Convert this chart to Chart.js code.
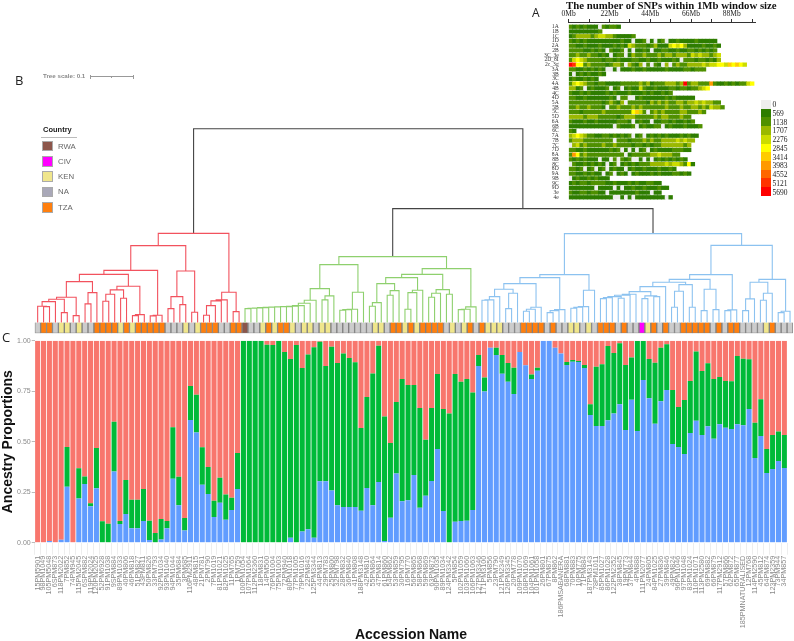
<!DOCTYPE html>
<html>
<head>
<meta charset="utf-8">
<title>Accession ancestry</title>
<script src="https://cdn.jsdelivr.net/npm/chart.js@4/dist/chart.umd.min.js"></script>
<style>
  html, body { margin: 0; padding: 0; background: #fff; overflow: hidden; }
  #page { position: relative; width: 794px; height: 641px; font-family: "Liberation Sans", sans-serif; }
  canvas { position: absolute; }
  .txt { position: absolute; white-space: nowrap; }
  .box { position: absolute; box-sizing: border-box; }
</style>
</head>
<body>
<div id="page">
  <canvas id="ancestry" width="794" height="641" style="left:0;top:0"></canvas>
  <canvas id="tree" width="794" height="216" style="left:0;top:120px"></canvas>
  <canvas id="snps" width="264" height="205" style="left:530px;top:0"></canvas>
</div>
<script>
// accession names, left to right
var accessions = ["15PM5901","98PM1049","105PM5048","6SPM873","118PM2022","7PM852","74PM945","115PM2045","6SPM882","119PM2024",
  "120PM2025","52PM6928","91PM1038","9SPM884","89PM1033","40PM806","46PM818","51PM827","43PM811","50PM826",
  "33PM793","92PM1034","93PM1040","94PM1044","35PM684","3PM685","116PM2911","48PM815","21PM781","2PM790",
  "7PM1019","81PM1021","82PM1025","11PM765","1PM759","100PM1054","107PM1064","112PM2360","18PM831","14PM500",
  "76PM1004","75PM1003","72PM940","80PM1018","77PM1005","79PM1016","22PM843","125PM3344","44PM813","29PM783",
  "25PM800","32PM798","28PM832","36PM840","41PM808","188PM3148","42PM810","55PM864","47PM814","61PM860",
  "54PM862","53PM859","30PM795","16PM770","56PM865","58PM868","59PM869","63PM873","90PM1035","89PM1034",
  "124PM3342","5PM854","102PM1059","103PM1060","106PM1063","127PM3346","171PM3100","5PM856","23PM790","121PM2349",
  "126PM3345","20PM778","109PM1070","108PM1069","104PM1061","101PM1058","26PM801","67PM875","8PM862","186PMSABANERA",
  "68PM881","70PM883","10PM775","71PM884","187PM3143","78PM1011","85PM1027","86PM1028","122PM2352","38PM845",
  "19PM773","37PM844","4PM888","111PM2077","24PM805","84PM1025","27PM836","39PM846","49PM824","96PM1046",
  "97PM1048","83PM1024","110PM1071","113PM2580","69PM882","66PM879","117PM2912","57PM866","62PM872","65PM877",
  "185PMNATURALISED","12PM768","114PM2590","45PM812","64PM874","123PM2359","73PM944","34PM857"];

// top of the blue part of each bar
var blueTop = [0,0,.008,0,.015,.277,0,.219,.29,.18,.27,0,0,.353,.092,.142,.071,.071,.107,.013,
  0,.016,.071,.317,.185,.061,.607,.546,.287,.241,.127,.198,.114,.162,.266,0,0,0,0,0,
  0,0,0,.025,0,.056,.066,.025,.304,.304,.259,.186,.177,.177,.177,.158,.271,.186,.3,.008,
  .124,.342,.205,.21,.335,.173,.233,.305,.464,.157,0,.104,.107,.109,.162,.875,.748,.965,.929,.837,
  .797,.736,.944,.878,.81,.851,1,1,.965,.937,.88,.896,.894,.865,.632,.578,.578,.606,.639,.685,
  .558,.708,.553,.805,.715,.589,.7,.756,.488,.474,.439,.543,.604,.533,.576,.515,.586,.569,.563,.586,
  .581,.662,.419,.528,.345,.365,.404,.37];

// top of the green part of each bar, red fills the rest up to 1
var greenTop = [0,0,.008,0,.015,.474,0,.368,.328,.195,.469,.106,.094,.599,.107,.31,.213,.213,.266,.109,
  .048,.117,.107,.571,.327,.122,.776,.733,.472,.375,.208,.322,.238,.223,.444,1,1,1,1,.98,
  .979,1,.944,.909,.979,.865,.932,.967,.995,.875,.97,.889,.937,.914,.893,.568,.721,.838,.975,.625,
  .493,.696,.81,.781,.781,.667,.51,.667,.835,.662,.639,.835,.797,.81,.744,.929,.818,.965,.965,.929,
  .889,.866,.944,.878,.833,.866,1,1,.965,.937,.894,.904,.899,.88,.686,.871,.883,.974,.939,.987,
  .88,.917,.998,.998,.909,.891,.965,.983,.756,.672,.706,.8,.946,.85,.888,.81,.82,.8,.799,.924,
  .911,.908,.594,.71,.464,.533,.551,.533];

var yTicks = [0, .25, .5, .75, 1];

// country of each accession, same order as the bars
var countryOfLeaf = ("NTTNKKNKNNTTTTKTKTTTTTNNNKNKTTTNNTTRNNKTKTT" +
  "KNKKNKKNNNNNNNKKNTTKTKTTTTNKNKTNTKKKNNNTTTTNTNNKKNKNTTTNTNNCKTNTNNTTTTTNTNTTNNNNKTNNN").split("");
var countryNames = ["RWA", "CIV", "KEN", "NA", "TZA"];
var countryKeys = ["R", "C", "K", "N", "T"];
var countryColors = ["#8c564b", "#ff00ff", "#f0e68c", "#a9a8b8", "#ff7f0e"];
var stripColors = ["#8c564b", "#ff00ff", "#f0e68c", "#cccccc", "#ff7f0e"];

// clades as [height, left, right], a plain number is a leaf position
var redClade = [89.3,
  [77,
    [52.3,
      [48.3,
        [41,
          [25.3,
            [23.3, [21, [16.3, 0, [16, 1, 2]], 3], [10, 4, 5]],
            [7, 6, 7]],
          [30, [18.7, 8, 9], 10]],
        [36.3,
          [32.7, [28.3, [21.3, 11, 12], 13], [24.3, 14, 15]],
          [8, [7, 16, 17], 18]]],
      [7.3, [6.7, 19, 20], 21]],
    [51.7,
      [26, [14, 22, 23], [18, 24, 25]],
      [10.3, 26, 27]]],
  [30.3,
    [22.7, [21.7, [17, [7.3, 28, 29], 30], 31], 32],
    [11, 33, 34]]];

var greenClade = [66,
  [58,
    [34,
      [22.3, [19.3, [17, [16.3, [16, [15.8, [15.6, [15.3, [15, [14.6, [14.3, [14, 35, 36], 37], 38], 39], 40], 41], 42], 43], 44], 45], 46], 47],
      [26.7, [22.7, 48, 49], 50]],
    [30.3, [13.3, [13, [12.3, 51, 52], 53], 54], 55]],
  [54,
    [48.3,
      [45,
        [39,
          [20, [16.3, 56, 57], 58],
          [32, [27.3, 59, 60], 61]],
        [32.3, [30, [13.3, 62, 63], 64], 65]],
      [33,
        [29.3, [25.3, 66, 67], 68],
        [28.3, 69, 70]]],
    [15.7, [13.3, [13, 71, 72], 73], 74]]];

var blueClade = [89,
  [48,
    [45,
      [39,
        [33.3,
          [26, [22.7, [22.3, 75, 76], 77], 78],
          [29.3, [14, 79, 80], 81]],
        [15.3, [13.3, [11.3, 82, 83], 84], 85]],
      [13, [12, [10, 86, 87], 88], 89]],
    [32.3, [16, [15.3, [14.3, 90, 91], 92], 93], 94]],
  [77.3,
    [48,
      [43.3,
        [40.3,
          [36,
            [31,
              [28.3, [27.3, [26, [25, [24, 95, 96], 97], [24.3, 98, 99]], 100], 101],
              [26.7, [24, 102, 103], [26, 104, 105]]],
            106],
          [38,
            [31.3, [15.3, 107, 108], 109],
            [15.3, 110, 111]]],
        [33.3, [12, 112, 113], [13, 114, 115]]],
      [12.7, [12, 116, 117], 118]],
    [43.3,
      [40.3,
        [23.7, [12, 119, 120], 121],
        [29.3, [22.3, 122, 123], 124]],
      [11.3, [10, 125, 126], 127]]]];

var greenBlueHeight = 114;
var rootHeight = 194;
var stripDepth = 10.7;

// chromosome rows and their SNP class per 2Mb bin (class * 569 = SNPs per window)
var chromosomes = ["1A","1B","1C","1D","2A","2B","3C_3e","2D_8I","2c_3g","3A","3B","3C","4A","4B","4C","4D","5A","5B","5C","5D",
  "6A","6B","6C","7A","7B","7C","7D","8A","8B","8C","8D","9A","9B","9C","9D","3e","4e"];
var snpBins = [
  "21212111021221",
  "111111112",
  "123333234433211112",
  "2121211111111121101120101201121111211111",
  "22112111211121214322212311145453111121121",
  "2222112121021120101121011221121122121212",
  "22322322121012201322322232332333243433234",
  "24543222212212111221121121112102221221213",
  "a95523222212332032130202103023223333434455465654",
  "2211212121001011121121111121111221222",
  "1012121121",
  "12112121",
  "2454322122111122222323122233323a233222721121212245",
  "33120121112012012114211211122122122345",
  "2112121111212111211121211212",
  "2211211111121022001211111121211111",
  "22222222212321302222213232322332334343322",
  "223223222102232223232222223222322332324332",
  "2221222223222222256420232322223322232",
  "333323332222212333222223233222322",
  "2111211211111222101211011221211212",
  "111111111111021112012112201211121112",
  "21",
  "34543221122121212012012121211121211",
  "2333222222220222122232322333343433",
  "034232222322322221221212233333323",
  "221121111112120101012012111122211",
  "275232222222222012222233433322",
  "21212111011020212001010121212121",
  "0211212121012012121222333343443251",
  "22120120120121101211211121121",
  "221121211012012101211121211122121",
  "01211212111",
  "1212212222112111212112211",
  "111111101111010112112111211",
  "2112212211011111112111011",
  "1111111111110010101111111101"
];
var snpClassColors = ["#eeeeee","#2e7d00","#4f9000","#9ab800","#ccdc00","#ffff00","#ffcc00","#ff9900","#ff6600","#ff3300","#ff0000"];
var snpKeyLabels = [0, 569, 1138, 1707, 2276, 2845, 3414, 3983, 4552, 5121, 5690];

var page = document.getElementById("page");
Chart.defaults.animation = false;
Chart.defaults.responsive = false;

function addText(text, left, top, css) {
  var d = document.createElement("div");
  d.className = "txt";
  d.textContent = text;
  d.style.cssText = "left:" + left + "px;top:" + top + "px;" + css;
  page.appendChild(d);
}

function addBox(left, top, w, h, css) {
  var d = document.createElement("div");
  d.className = "box";
  d.style.cssText = "left:" + left + "px;top:" + top + "px;width:" + w + "px;height:" + h + "px;" + css;
  page.appendChild(d);
}

//-------------
//- STACKED BARS -
//-------------
var blueShare = [], greenShare = [], redShare = [];
for (var i = 0; i < accessions.length; i++) {
  blueShare.push(blueTop[i]);
  greenShare.push(greenTop[i] - blueTop[i]);
  redShare.push(1 - greenTop[i]);
}

new Chart(document.getElementById("ancestry"), {
  type: "bar",
  data: {
    labels: accessions,
    datasets: [
      { label: "blue", data: blueShare, backgroundColor: "#619cff" },
      { label: "green", data: greenShare, backgroundColor: "#00ba38" },
      { label: "red", data: redShare, backgroundColor: "#f8766d" }
    ]
  },
  options: {
    layout: { padding: { top: 340.7, right: 1 } },
    plugins: { legend: { display: false }, tooltip: { enabled: false } },
    barPercentage: 0.86,
    categoryPercentage: 1,
    scales: {
      x: {
        stacked: true,
        afterFit: function (axis) { axis.height = 98.3; },
        grid: { drawOnChartArea: false, tickLength: 12, color: "#eeeeee" },
        border: { display: false },
        ticks: { autoSkip: false, minRotation: 90, maxRotation: 90, padding: 1, color: "#8a8a8a", font: { size: 7.2 } },
        title: { display: true, text: "Accession Name", color: "#111", font: { size: 14, weight: "bold" }, padding: { top: 0, bottom: -2.5 } }
      },
      y: {
        stacked: true,
        min: 0,
        max: 1,
        afterFit: function (axis) { axis.width = 34.7; },
        afterBuildTicks: function (axis) {
          axis.ticks = yTicks.map(function (v) { return { value: v }; });
        },
        grid: { drawOnChartArea: false, tickLength: 3, color: "#bbbbbb" },
        border: { display: false },
        ticks: {
          padding: 1,
          color: "#8a8a8a",
          font: { size: 7 },
          callback: function (v) { return v.toFixed(2); }
        },
        title: { display: true, text: "Ancestry Proportions", color: "#111", font: { size: 14, weight: "bold" }, padding: 0 }
      }
    }
  }
});

//-------------
//- TREE AND COUNTRY STRIP -
//-------------
function addBracket(pts, h, a, b) {
  pts.push({ x: a.x, y: a.h }, { x: a.x, y: h }, { x: b.x, y: h }, { x: b.x, y: b.h }, { x: NaN, y: NaN });
  return { x: (a.x + b.x) / 2, h: h };
}

function walk(node, pts) {
  if (typeof node === "number") return { x: node, h: 0 };
  return addBracket(pts, node[0], walk(node[1], pts), walk(node[2], pts));
}

var redPts = [], greenPts = [], bluePts = [], rootPts = [];
var redTop = walk(redClade, redPts);
var greenCladeTop = walk(greenClade, greenPts);
var blueCladeTop = walk(blueClade, bluePts);
addBracket(rootPts, rootHeight, redTop, addBracket(rootPts, greenBlueHeight, greenCladeTop, blueCladeTop));

var stripCells = [], stripFill = [];
for (var c = 0; c < countryOfLeaf.length; c++) {
  stripCells.push({ x: c, y: [-stripDepth, 0] });
  stripFill.push(stripColors[countryKeys.indexOf(countryOfLeaf[c])]);
}

function treeLine(pts, color) {
  return { type: "line", data: pts, borderColor: color, borderWidth: 1.1, pointRadius: 0, tension: 0, spanGaps: false, fill: false, clip: false };
}

new Chart(document.getElementById("tree"), {
  data: {
    datasets: [
      treeLine(redPts, "#f2525e"),
      treeLine(greenPts, "#8ed06e"),
      treeLine(bluePts, "#8cc2f0"),
      treeLine(rootPts, "#444444"),
      { type: "bar", data: stripCells, backgroundColor: stripFill, borderColor: "#808080", borderWidth: 1, barPercentage: 1, categoryPercentage: 1 }
    ]
  },
  options: {
    layout: { padding: { left: 34.7, right: 1, top: 8.7, bottom: 2.7 } },
    plugins: { legend: { display: false }, tooltip: { enabled: false } },
    scales: {
      x: { type: "linear", display: false, offset: false, min: -0.5, max: 127.5 },
      y: { type: "linear", display: false, min: -stripDepth, max: rootHeight }
    }
  }
});

//-------------
//- SNP DENSITY ROWS -
//-------------
var snpCells = [], snpFill = [];
for (var r = 0; r < chromosomes.length; r++) {
  var bins = snpBins[r];
  for (var b = 0; b < bins.length; b++) {
    snpCells.push({ y: chromosomes[r], x: [b * 2, b * 2 + 2] });
    snpFill.push(snpClassColors[parseInt(bins.charAt(b), 16)]);
  }
}

new Chart(document.getElementById("snps"), {
  type: "bar",
  data: {
    labels: [""].concat(chromosomes),
    datasets: [{ data: snpCells, backgroundColor: snpFill, barThickness: 3.6, grouped: false, clip: false }]
  },
  options: {
    indexAxis: "y",
    layout: { padding: { top: 0, right: 38.1, bottom: 7.7 } },
    plugins: { legend: { display: false }, tooltip: { enabled: false } },
    scales: {
      x: {
        type: "linear",
        position: "top",
        min: 0,
        max: 101,
        afterFit: function (axis) { axis.height = 22; },
        afterBuildTicks: function (axis) {
          var t = [];
          for (var v = 0; v <= 99; v += 11) t.push({ value: v });
          axis.ticks = t;
        },
        grid: { drawOnChartArea: false, tickLength: 3, color: "#333333" },
        border: { color: "#333333" },
        ticks: {
          autoSkip: false,
          maxRotation: 0,
          padding: 0,
          color: "#222",
          font: { family: "Liberation Serif", size: 7.5 },
          callback: function (v) { return v % 22 === 0 ? v + "Mb" : ""; }
        }
      },
      y: {
        type: "category",
        offset: false,
        afterFit: function (axis) { axis.width = 38.7; },
        grid: { display: false, offset: false },
        border: { display: false },
        ticks: { autoSkip: false, padding: 2, color: "#333", font: { family: "Liberation Serif", size: 5.6 } }
      }
    }
  }
});

// heading, panel letters and the two keys
addText("The number of SNPs within 1Mb window size", 566, -1, "font:bold 10.8px 'Liberation Serif';color:#111");
addText("A", 532, 4, "font:12px 'Open Sans';color:#222");
addText("B", 15, 71, "font:13px 'Open Sans';color:#222");
addText("C", 2, 328, "font:13px 'Open Sans';color:#222");

for (var k = 0; k < snpKeyLabels.length; k++) {
  addBox(761, 100 + k * 8.72, 9.6, 8.72, "background:" + snpClassColors[k]);
  addText(String(snpKeyLabels[k]), 772.5, 100.3 + k * 8.72, "font:7.5px 'Liberation Serif';color:#222");
}

addText("Tree scale: 0.1", 43, 72, "font:bold 6.2px 'Liberation Sans';color:#8a8a8a");
addBox(90, 76.2, 43.5, 1, "background:#999");
addBox(90, 74.7, 1, 4, "background:#999");
addBox(111, 75.7, 1, 2, "background:#999");
addBox(133, 74.7, 1, 4, "background:#999");

addText("Country", 43, 125, "font:bold 7.5px 'Liberation Sans';color:#222");
addBox(41, 137, 36, 1, "background:#bbb");
for (var n = 0; n < countryNames.length; n++) {
  addBox(42.3, 140.7 + n * 15.33, 10.7, 10.7, "border:1px solid #aaa;background:" + countryColors[n]);
  addText(countryNames[n], 58, 141.5 + n * 15.33, "font:7.8px 'Liberation Sans';color:#666");
}
</script>
</body>
</html>
